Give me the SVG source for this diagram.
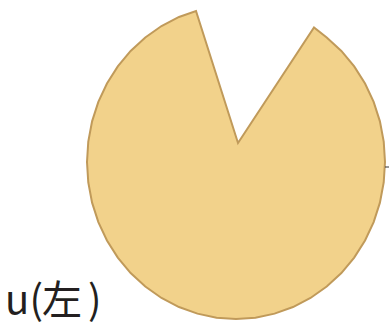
<svg xmlns="http://www.w3.org/2000/svg" width="389" height="327" viewBox="0 0 389 327">
<style>
.shape{fill:#f2d28b;stroke:#c09a5a;stroke-width:2;stroke-linejoin:miter}
.lbl{font-family:"Noto Sans CJK JP","Noto Sans",sans-serif;font-size:40px;fill:#231f20}
.tick{stroke:#333;stroke-width:1}
</style>
<g id="pie">
<polygon class="shape" points="238,143 196,11 179,16.95 161.5,26.03 145.29,37.44 130.64,50.98 117.79,66.42 106.96,83.5 98.34,101.92 92.08,121.37 88.28,141.51 87,162 88.28,182.49 92.08,202.63 98.34,222.08 106.96,240.5 117.79,257.58 130.64,273.02 145.29,286.56 161.5,297.97 178.98,307.05 197.44,313.65 216.55,317.66 236,319 255.45,317.66 274.56,313.65 293.02,307.05 310.5,297.97 326.71,286.56 341.36,273.02 354.21,257.58 365.04,240.5 373.66,222.08 379.92,202.63 383.72,182.49 385,162 383.72,141.51 379.92,121.37 373.66,101.92 365.04,83.5 354.21,66.42 341.36,50.98 326.71,37.44 314,27.5"/>
</g>
<line class="tick" x1="385" y1="167" x2="389" y2="167"/>
<g id="label">
<text class="lbl" y="314"><tspan x="5">u</tspan><tspan x="29.5">(</tspan><tspan x="42">左</tspan><tspan x="88">)</tspan></text>
</g>
</svg>
